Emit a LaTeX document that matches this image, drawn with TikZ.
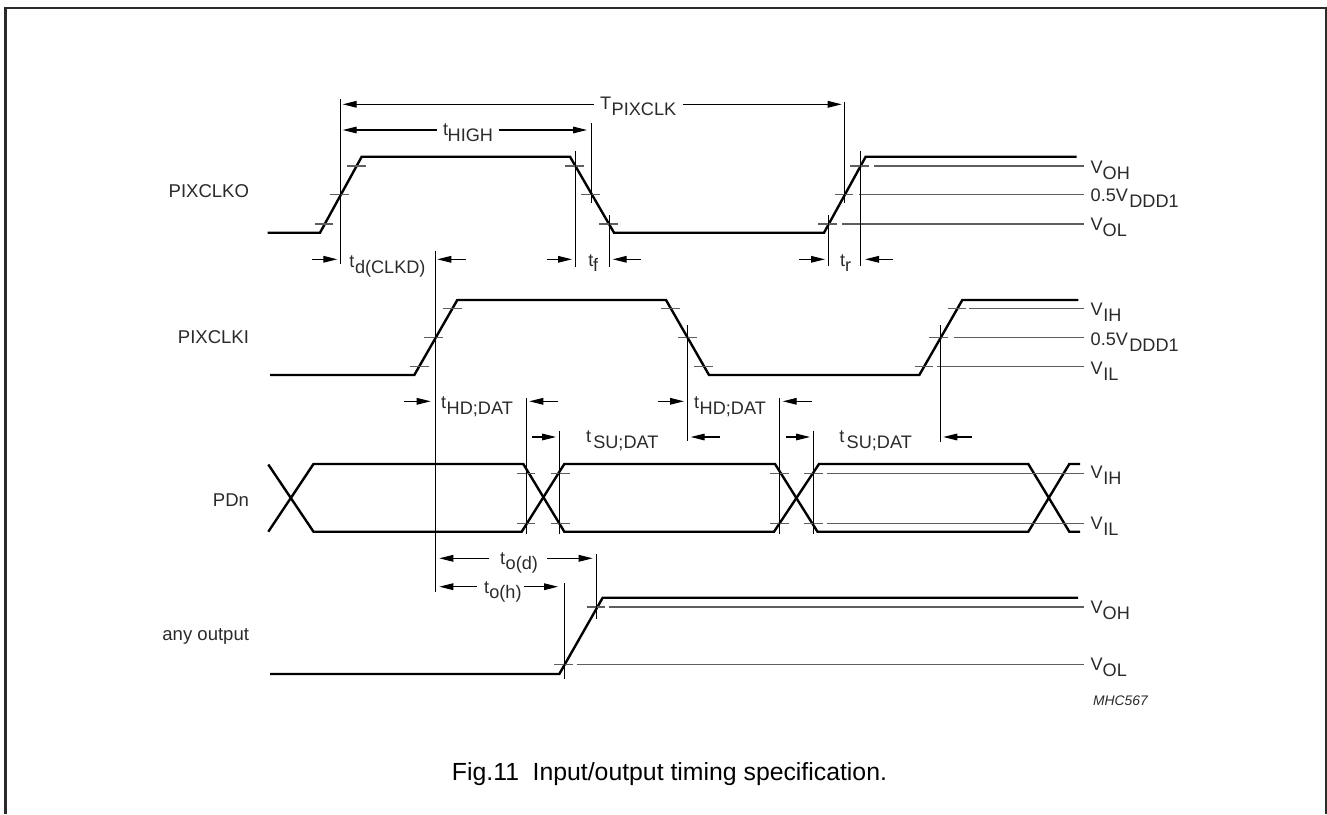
\documentclass[tikz,border=0pt]{standalone}
\usepackage{fontspec}
\setmainfont{Liberation Sans}
\usetikzlibrary{arrows.meta}
\definecolor{ink}{HTML}{2A2A2A}
\definecolor{thin}{HTML}{4A4A4A}
\definecolor{level}{HTML}{5E5E5E}
\tikzset{
  wave/.style={line width=1.8pt,black,line join=miter,line cap=butt},
  thinl/.style={line width=0.85pt,thin},
  tickl/.style={line width=0.85pt,level},
  dimarrow/.style={line width=0.8pt,black,-{Triangle[length=10.5pt,width=5pt]}},
  frameline/.style={line width=1.6pt,ink},
  lab/.style={anchor=base west,inner sep=0pt,outer sep=0pt,text=ink},
  sig/.style={anchor=base east,inner sep=0pt,outer sep=0pt,text=ink,font=\fontsize{13.9}{15}\selectfont},
}
\newcommand{\bigf}{\fontsize{13.6}{15}\selectfont}
\newcommand{\tk}[3]{\draw[tickl] (#1,#3) -- (#2,#3);}
\newcommand{\vl}[3]{\draw[thinl] (#1,#2) -- (#1,#3);}
\newcommand{\hl}[2]{\draw[tickl] (#1,#2) -- (1084,#2);}
\newcommand{\ar}[3]{\draw[dimarrow] (#1,#3) -- (#2,#3);}
\newcommand{\bl}[5]{\node[lab,font=#5] (#1) at (#2,#3) {#4};}
\begin{document}
\begin{tikzpicture}[x=0.75pt,y=-0.75pt]
\useasboundingbox (0,0) rectangle (1327,814);
\fill[white] (0,0) rectangle (1327,814);
% frame
\draw[frameline] (5.5,814) -- (5.5,8) -- (1326,8) -- (1326,814);

% waveforms
\draw[wave] (267.5,232.7) -- (320,232.7) -- (361.7,156.7) -- (570,156.7) -- (614,232.7) -- (824,232.7) -- (865.7,156.7) -- (1076.7,156.7);
\draw[wave] (270,375) -- (414.3,375) -- (457.3,300) -- (666,300) -- (709,375) -- (919.3,375) -- (962.3,300) -- (1078.3,300);
\draw[wave] (268.3,464.5) -- (313.5,531.7) -- (521.7,531.7) -- (564.3,464) -- (775,464) -- (817.5,531.7) -- (1028.3,531.7) -- (1069.3,464) -- (1080,464);
\draw[wave] (268.3,531.7) -- (313.5,464) -- (523.3,464) -- (564.3,531.7) -- (774,531.7) -- (819,464) -- (1028.3,464) -- (1069.3,531.7) -- (1080,531.7);
\draw[wave] (270,674) -- (559.3,674) -- (602.7,597.7) -- (1078,597.7);

% ticks row 1
\tk{315}{333}{224}\tk{330}{349}{194.7}\tk{347}{366}{166}
\tk{565}{584}{166}\tk{581}{600}{194.7}\tk{599}{618}{224}
\tk{850}{869}{166}\tk{835}{853.3}{194.7}\tk{818}{836.7}{224}
\hl{874}{166}\hl{858.7}{194.7}\hl{842}{224}
% ticks row 2
\tk{410}{429}{366.3}\tk{424}{443}{337.7}\tk{443}{462}{308.3}
\tk{661}{680}{308.3}\tk{678}{697}{337.7}\tk{694}{712.7}{366.3}
\tk{947.7}{966}{308.3}\tk{929}{948}{337.7}\tk{915}{933}{366.3}
\hl{969.3}{308.3}\hl{954}{337.7}\hl{937.3}{366.3}
% ticks row 3
\tk{516.7}{535.3}{473.3}\tk{551}{570}{473.3}\tk{770}{788.7}{473.3}\tk{804}{822.7}{473.3}
\tk{516.7}{535.3}{523.7}\tk{551}{570}{523.7}\tk{770}{788.7}{523.7}\tk{804}{822.7}{523.7}
\hl{827.3}{473.3}\hl{827.3}{523.7}
% ticks row 4
\tk{586.7}{605.3}{607}\tk{554}{572.7}{664.7}
\hl{609}{607}\hl{576.7}{664.7}

% verticals
\vl{340.7}{99}{264}
\vl{591.7}{123}{203}
\vl{575.3}{150.7}{266.7}
\vl{609.3}{215}{266.7}
\vl{435}{250.7}{591.7}
\vl{844.3}{101.7}{203}
\vl{828.3}{215}{266}
\vl{860}{150.7}{266}
\vl{687.7}{325}{440.7}
\vl{940.3}{325}{442.3}
\vl{526.7}{398.3}{534}
\vl{559.7}{430.7}{534}
\vl{779.7}{398.3}{534}
\vl{813.3}{430.7}{534}
\vl{596.7}{554}{619.3}
\vl{564.7}{583}{679}

% dimension arrows
\ar{594}{342.7}{104.3}\ar{682.7}{841.7}{104.3}
\ar{437}{342.7}{130}\ar{499}{587}{130}
\ar{311.7}{337.3}{259.3}\ar{466}{437.3}{259.3}
\ar{546.7}{572}{259.3}\ar{641}{612.7}{259.3}
\ar{799}{825}{259.3}\ar{893}{865}{259.3}
\ar{404}{430.7}{401.3}\ar{558}{529.3}{401.3}
\ar{658}{684}{401.3}\ar{811.7}{782.7}{401.3}
\ar{532}{556}{437}\ar{720}{690.7}{437}
\ar{786}{810}{437}\ar{971.7}{943.3}{437}
\ar{489.3}{439.3}{558.3}\ar{547.3}{592.7}{558.3}
\ar{476.7}{439.3}{586.7}\ar{524.3}{558}{586.7}

% signal names
\node[sig] (nPIXCLKO) at (249,197.3) {PIXCLKO};
\node[sig] (nPIXCLKI) at (249,343) {PIXCLKI};
\node[sig] (nPDn) at (249,506) {PDn};
\node[sig] (nany) at (249,640) {any output};

% timing labels
\bl{a1}{600}{109}{T}{\bigf}\bl{a2}{611.7}{115}{PIXCLK}{\bigf}
\bl{b1}{443}{135.7}{t}{\bigf}\bl{b2}{447.7}{141}{HIGH}{\bigf}
\bl{c1}{349.3}{267}{t}{\bigf}\bl{c2}{355}{273}{d(CLKD)}{\bigf}
\bl{d1}{588.3}{266.7}{t}{\bigf}\bl{d2}{593}{271.7}{f}{\bigf}
\bl{e1}{840}{266.7}{t}{\bigf}\bl{e2}{845}{271}{r}{\bigf}
\bl{f1}{441}{408}{t}{\bigf}\bl{f2}{446.7}{414}{HD;DAT}{\bigf}
\bl{g1}{694}{408}{t}{\bigf}\bl{g2}{699.7}{414}{HD;DAT}{\bigf}
\bl{h1}{586}{442}{t}{\bigf}\bl{h2}{593.3}{448}{SU;DAT}{\bigf}
\bl{i1}{839.3}{442}{t}{\bigf}\bl{i2}{846.7}{448}{SU;DAT}{\bigf}
\bl{j1}{500}{564}{t}{\bigf}\bl{j2}{505.7}{569.3}{o(d)}{\bigf}
\bl{k1}{484}{593.3}{t}{\bigf}\bl{k2}{489.3}{598.7}{o(h)}{\bigf}

% level labels
\bl{l1}{1090.7}{173}{V}{\bigf}\bl{l2}{1102.7}{179}{OH}{\bigf}
\bl{m1}{1090.7}{201.7}{0.5V}{\bigf}\bl{m2}{1129.3}{207.7}{DDD1}{\bigf}
\bl{n1}{1090.7}{230.7}{V}{\bigf}\bl{n2}{1102.7}{236.7}{OL}{\bigf}
\bl{o1}{1090.7}{315.7}{V}{\bigf}\bl{o2}{1103.3}{321.7}{IH}{\bigf}
\bl{p1}{1090.7}{345}{0.5V}{\bigf}\bl{p2}{1129.3}{351}{DDD1}{\bigf}
\bl{q1}{1090.7}{374}{V}{\bigf}\bl{q2}{1103.3}{380}{IL}{\bigf}
\bl{r1}{1090.7}{478}{V}{\bigf}\bl{r2}{1103.3}{484}{IH}{\bigf}
\bl{s1}{1090.7}{529.7}{V}{\bigf}\bl{s2}{1103.3}{535.7}{IL}{\bigf}
\bl{u1}{1090.7}{613.3}{V}{\bigf}\bl{u2}{1102.7}{619.3}{OH}{\bigf}
\bl{v1}{1090.7}{670}{V}{\bigf}\bl{v2}{1102.7}{676}{OL}{\bigf}

% code and caption
\node[lab,font=\fontsize{10.4}{12}\selectfont\itshape] (code) at (1093,705) {MHC567};
\node[anchor=base east,inner sep=0pt,outer sep=0pt,text=black,font=\fontsize{18.6}{22}\selectfont] (caption) at (887,780) {Fig.11\hspace{0.55em}Input/output timing specification.};
\end{tikzpicture}
\end{document}
